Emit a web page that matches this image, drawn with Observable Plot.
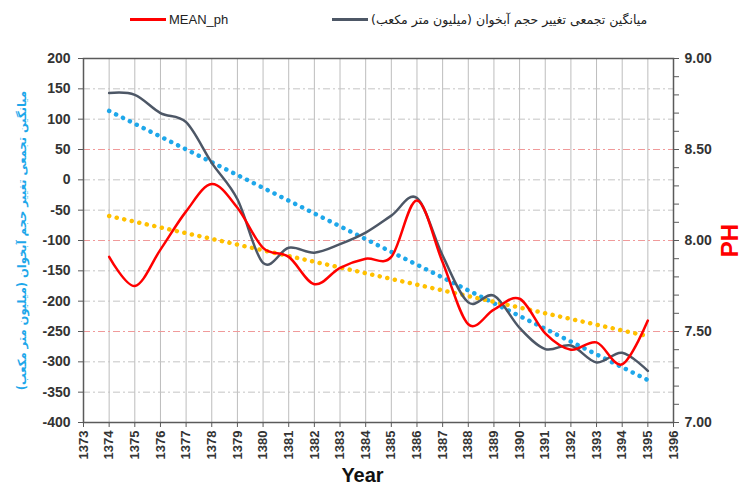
<!DOCTYPE html>
<html>
<head>
<meta charset="utf-8">
<script src="https://cdn.jsdelivr.net/npm/d3@7"></script>
<script src="https://cdn.jsdelivr.net/npm/@observablehq/plot@0.6"></script>
<style>
  body { margin: 0; background: #fff; font-family: "Liberation Sans", Arial, "DejaVu Sans", sans-serif; }
  #legend { position: relative; width: 749px; height: 34px; }
  .item { position: absolute; top: 12px; display: flex; align-items: center; font-size: 13px; color: #222; }
  .sw { display: inline-block; width: 36px; height: 2.5px; margin-right: 3px; }
</style>
</head>
<body>
<div id="legend">
  <div class="item" style="left:130px;"><span class="sw" style="background:#ff0000"></span><span>MEAN_ph</span></div>
  <div class="item" style="left:332px;"><span class="sw" style="background:#4d5766"></span><span dir="rtl" style="font-family:'DejaVu Sans';font-size:12.5px">میانگین تجمعی تغییر حجم آبخوان (میلیون متر مکعب)</span></div>
</div>
<div id="chart"></div>
<script>
const years = d3.range(1374, 1396);
const volume = [143, 140, 110, 95, 28, -32, -137, -112, -120, -106, -87, -59, -30, -125, -202, -191, -244, -279, -273, -301, -285, -315];
const ph = [7.91, 7.75, 7.95, 8.16, 8.31, 8.18, 7.96, 7.91, 7.76, 7.85, 7.90, 7.91, 8.22, 7.88, 7.54, 7.62, 7.68, 7.49, 7.40, 7.44, 7.32, 7.56];
const xTicks = d3.range(1373, 1397);
const leftTicks = d3.range(-400, 201, 50);
const phMajor = [7.0, 7.5, 8.0, 8.5, 9.0];
const phMinor = d3.range(70, 91).map(d => d / 10);
const leftTitle = "میانگین تجمعی تغییر حجم آبخوان (میلیون متر مکعب)";

const toLeft = p => (p - 7) * 300 - 400;
const fromLeft = v => (v + 400) / 300 + 7;

const rows = years.map((y, i) => ({ year: y, volume: volume[i], ph: ph[i], phLeft: toLeft(ph[i]) }));
const redGrid = phMajor.slice(1, -1).map(toLeft);
const grayGrid = leftTicks.filter(v => v > -400 && v < 200 && !redGrid.includes(v));

const chart = Plot.plot({
  width: 749,
  height: 450,
  marginTop: 24,
  marginBottom: 62,
  marginLeft: 83,
  marginRight: 76,
  style: { fontFamily: "'Liberation Sans', Arial, sans-serif", background: "#fff" },
  x: { domain: [1373, 1396] },
  y: { domain: [-400, 200] },
  marks: [
    Plot.ruleX(xTicks.slice(1, -1), { stroke: "#bdbdbd", strokeWidth: 1 }),
    Plot.ruleY(grayGrid, { stroke: "#c4c4c4", strokeDasharray: "7,3,2,3" }),
    Plot.ruleY(redGrid, { stroke: "#f09a9a", strokeDasharray: "7,3,2,3" }),
    Plot.linearRegressionY(rows, { x: "year", y: "volume", stroke: "#1ea7ea", strokeWidth: 4.5, strokeDasharray: "0.1,7.6", strokeLinecap: "round", ci: 0 }),
    Plot.linearRegressionY(rows, { x: "year", y: "phLeft", stroke: "#ffc000", strokeWidth: 4.5, strokeDasharray: "0.1,7.6", strokeLinecap: "round", ci: 0 }),
    Plot.line(rows, { x: "year", y: "volume", curve: "cardinal", stroke: "#4d5766", strokeWidth: 2.5 }),
    Plot.line(rows, { x: "year", y: "phLeft", curve: "cardinal", stroke: "#ff0000", strokeWidth: 2.5 }),
    Plot.frame({ stroke: "#5a5a5a", strokeWidth: 1.5 }),
    Plot.axisX(xTicks, { tickFormat: d => String(d), tickRotate: -90, tickSize: 5, tickPadding: 3, fontSize: 13, fontWeight: "bold", fill: "#333", stroke: "#5a5a5a", label: null }),
    Plot.axisY(leftTicks, { tickFormat: d => String(d), tickSize: 5, tickPadding: 8, fontSize: 14, fontWeight: "bold", fill: "#333", stroke: "#5a5a5a", label: null }),
    Plot.axisY(phMinor.map(toLeft), { anchor: "right", tickFormat: () => "", tickSize: 5, stroke: "#5a5a5a", label: null }),
    Plot.axisY(phMajor.map(toLeft), { anchor: "right", tickFormat: d => fromLeft(d).toFixed(2), tickSize: 5, tickPadding: 6, fontSize: 14, fontWeight: "bold", fill: "#333", stroke: "#5a5a5a", label: null }),
    Plot.text(["Year"], { text: d => d, frameAnchor: "bottom", dy: 59, dx: -16, fontSize: 20, fontWeight: "bold", fill: "#111" }),
    Plot.text(["PH"], { text: d => d, frameAnchor: "right", textAnchor: "middle", dx: 57, rotate: -90, fontSize: 24, fontWeight: "bold", fill: "#ff0000" }),
    Plot.text([leftTitle], { text: d => d, frameAnchor: "left", textAnchor: "middle", dx: -61, rotate: -90, fontSize: 11.5, fontWeight: "bold", fill: "#1ea7ea", fontFamily: "'DejaVu Sans', sans-serif" })
  ]
});
document.getElementById("chart").appendChild(chart);
</script>
</body>
</html>
